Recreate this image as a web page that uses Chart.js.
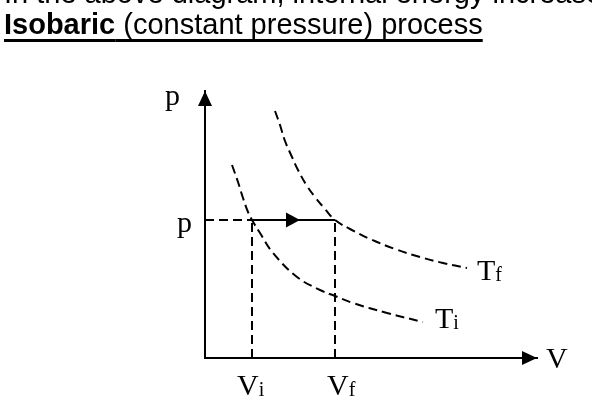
<!DOCTYPE html>
<html>
<head>
<meta charset="utf-8">
<script src="https://cdn.jsdelivr.net/npm/chart.js@4"></script>
<style>
  html, body { margin: 0; padding: 0; background: #fff; }
  #wrap { position: relative; width: 592px; height: 406px; overflow: hidden; }
  canvas { position: absolute; left: 0; top: 0; }
  .line {
    position: absolute; left: 4px;
    font-family: "Liberation Sans", Arial, sans-serif;
    font-size: 29px; line-height: 29px;
    white-space: nowrap; color: #000;
  }
  #l1 { top: -21px; }
  #l2 {
    top: 10px;
    text-decoration: underline;
    text-decoration-thickness: 3px;
    text-underline-offset: 5px;
    text-decoration-skip-ink: none;
  }
</style>
</head>
<body>
<div id="wrap">
  <canvas id="chart" width="592" height="406"></canvas>
  <div class="line" id="l1">In the above diagram, internal energy increases</div>
  <div class="line" id="l2"><b>Isobaric</b> (constant pressure) process</div>
</div>
<script>
// p-V sketch, values (arbitrary units, origin at the axes corner)
const axisMax = { V: 332, p: 267 };
const Vi = 47;
const Vf = 130;
const pLevel = 138;
const arrowAt = 95;

// isotherm T_i
const tiV = [27, 33, 38, 43, 47, 55, 68, 92, 115, 130, 148, 182, 218];
const tiP = [193, 176, 160, 146, 138, 125, 105, 81, 68, 62, 55, 45, 36];
// isotherm T_f
const tfV = [70, 75, 80, 87, 93, 102, 110, 120, 130, 145, 165, 190, 215, 238, 262];
const tfP = [247, 233, 217, 201, 188, 172, 161, 149, 138, 129, 119, 109, 101, 95, 90];

const serif = '"Liberation Serif", "Times New Roman", serif';
const dash = [9, 5];

function pts(xs, ys) {
  return xs.map((v, i) => ({ x: v, y: ys[i] }));
}

function tri(ctx, x, y, dir, len, half) {
  ctx.beginPath();
  if (dir === 'right') {
    ctx.moveTo(x, y);
    ctx.lineTo(x - len, y - half);
    ctx.lineTo(x - len, y + half);
  } else {
    ctx.moveTo(x, y);
    ctx.lineTo(x - half, y + len);
    ctx.lineTo(x + half, y + len);
  }
  ctx.closePath();
  ctx.fill();
}

function label(ctx, main, small, x, y) {
  ctx.font = '30px ' + serif;
  ctx.fillText(main, x, y);
  if (!small) return;
  const w = ctx.measureText(main).width;
  ctx.font = '20px ' + serif;
  ctx.fillText(small, x + w, y + 1);
}

// arrow heads + axis / curve labels
const sketchMarks = {
  id: 'sketchMarks',
  afterDatasetsDraw(chart) {
    const { ctx, scales: { x, y } } = chart;
    const ox = x.getPixelForValue(0), oy = y.getPixelForValue(0);
    const xe = x.getPixelForValue(axisMax.V), ye = y.getPixelForValue(axisMax.p);
    const py = y.getPixelForValue(pLevel);
    ctx.save();
    ctx.fillStyle = '#000';
    ctx.textBaseline = 'alphabetic';
    tri(ctx, xe, oy, 'right', 15, 7);
    tri(ctx, ox, ye, 'up', 15, 7);
    tri(ctx, x.getPixelForValue(arrowAt), py, 'right', 14, 7.5);

    label(ctx, 'p', '', ox - 40, ye + 14);
    label(ctx, 'p', '', ox - 28, py + 12);
    label(ctx, 'V', '', xe + 9, oy + 10);
    label(ctx, 'V', 'i', x.getPixelForValue(Vi) - 15, oy + 37);
    label(ctx, 'V', 'f', x.getPixelForValue(Vf) - 8, oy + 37);

    const tiEnd = tiV.length - 1, tfEnd = tfV.length - 1;
    label(ctx, 'T', 'i', x.getPixelForValue(tiV[tiEnd]) + 12, y.getPixelForValue(tiP[tiEnd]) + 6);
    label(ctx, 'T', 'f', x.getPixelForValue(tfV[tfEnd]) + 10, y.getPixelForValue(tfP[tfEnd]) + 12);
    ctx.restore();
  }
};

const lineStyle = { borderColor: '#000', borderWidth: 2, pointRadius: 0, fill: false };

new Chart(document.getElementById('chart'), {
  type: 'line',
  data: {
    datasets: [
      { ...lineStyle, data: pts(tiV, tiP), borderDash: dash, tension: 0.4 },
      { ...lineStyle, data: pts(tfV, tfP), borderDash: dash, tension: 0.4 },
      { ...lineStyle, data: [{ x: 0, y: pLevel }, { x: Vi, y: pLevel }], borderDash: dash },
      { ...lineStyle, data: [{ x: Vi, y: 0 }, { x: Vi, y: pLevel }], borderDash: dash },
      { ...lineStyle, data: [{ x: Vf, y: 0 }, { x: Vf, y: pLevel }], borderDash: dash },
      { ...lineStyle, data: [{ x: Vi, y: pLevel }, { x: Vf, y: pLevel }] }
    ]
  },
  options: {
    responsive: false,
    animation: false,
    layout: { padding: { left: 205, right: 55, top: 91, bottom: 48 } },
    plugins: { legend: { display: false }, tooltip: { enabled: false } },
    scales: {
      x: {
        type: 'linear', min: 0, max: axisMax.V,
        grid: { display: false }, ticks: { display: false },
        border: { color: '#000', width: 2 },
        afterFit: s => { s.height = 0; }
      },
      y: {
        type: 'linear', min: 0, max: axisMax.p,
        grid: { display: false }, ticks: { display: false },
        border: { color: '#000', width: 2 },
        afterFit: s => { s.width = 0; }
      }
    }
  },
  plugins: [sketchMarks]
});
</script>
</body>
</html>
